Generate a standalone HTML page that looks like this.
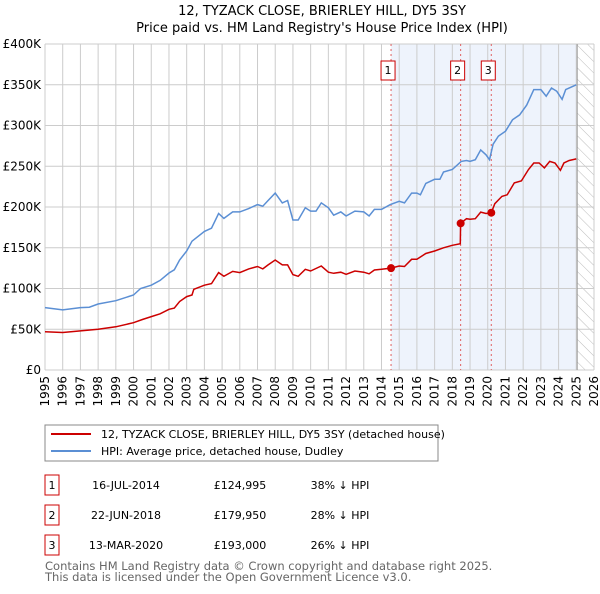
<!DOCTYPE html>
<html><head><meta charset="utf-8"><style>
body{margin:0;background:#fff;font-family:"DejaVu Sans","Liberation Sans",sans-serif;}
svg text{font-family:"DejaVu Sans","Liberation Sans",sans-serif;}
</style></head><body>
<svg id="chart" width="600" height="590" viewBox="0 0 600 590" xmlns="http://www.w3.org/2000/svg">
<defs><pattern id="hatch" width="8" height="8" patternUnits="userSpaceOnUse" patternTransform="rotate(-45)"><line x1="0" y1="0" x2="0" y2="8" stroke="#bbb" stroke-width="1"/></pattern></defs>
<text x="322" y="15" text-anchor="middle" font-size="13">12, TYZACK CLOSE, BRIERLEY HILL, DY5 3SY</text>
<text x="322" y="32" text-anchor="middle" font-size="13">Price paid vs. HM Land Registry's House Price Index (HPI)</text>
<g id="plot"></g>
<g>
<rect x="45" y="425" width="393" height="36" fill="#fff" stroke="#888"/>
<line x1="51" y1="434" x2="91" y2="434" stroke="#cc0000" stroke-width="2"/>
<text x="101" y="438" font-size="11">12, TYZACK CLOSE, BRIERLEY HILL, DY5 3SY (detached house)</text>
<line x1="51" y1="451" x2="91" y2="451" stroke="#5b8fd4" stroke-width="2"/>
<text x="101" y="455" font-size="11">HPI: Average price, detached house, Dudley</text>
</g>
<g id="table" font-size="11"></g>
<text x="45" y="570" font-size="11.5" fill="#666">Contains HM Land Registry data © Crown copyright and database right 2025.</text>
<text x="45" y="581" font-size="11.5" fill="#666">This data is licensed under the Open Government Licence v3.0.</text>
</svg>
<script>
const hpiYears=[1995,1996,1997,1997.5,1998,1999,2000,2000.4,2001,2001.5,2002,2002.3,2002.6,2003,2003.3,2004,2004.4,2004.8,2005.1,2005.6,2006,2006.5,2007,2007.3,2007.6,2008,2008.4,2008.7,2009,2009.3,2009.7,2010,2010.3,2010.6,2011,2011.3,2011.7,2012,2012.5,2013,2013.3,2013.6,2014,2014.5,2015,2015.3,2015.7,2016,2016.2,2016.5,2017,2017.3,2017.5,2018,2018.5,2018.8,2019,2019.3,2019.6,2019.9,2020.1,2020.3,2020.6,2021,2021.4,2021.8,2022.2,2022.6,2023,2023.3,2023.6,2023.9,2024.2,2024.4,2024.7,2025];
const hpiValues=[76.6,73.7,76.6,77,81,85,92,100,104,110,119,123,135,146,158,170,174,192,186,194,194,198,203,201,208,217,205,208,184,184,199,195,195,205,199,190,194,189,195,194,189,197,197,203,207,205,217,217,215,229,234,234,243,246,256,257,256,258,270,264,258,277,287,293,307,313,325,344,344,336,346,342,332,344,347,350];
const redYears=[1995,1996,1997,1998,1999,2000,2000.5,2001,2001.5,2002,2002.3,2002.6,2003,2003.3,2003.4,2004,2004.4,2004.8,2005.1,2005.6,2006,2006.5,2007,2007.3,2007.6,2008,2008.4,2008.7,2009,2009.3,2009.7,2010,2010.6,2011,2011.3,2011.7,2012,2012.5,2013,2013.3,2013.6,2014,2014.54,2015,2015.3,2015.7,2016,2016.5,2017,2017.5,2018,2018.45,2018.47,2018.8,2019,2019.3,2019.6,2019.9,2020.2,2020.4,2020.8,2021.1,2021.5,2021.9,2022.3,2022.6,2022.9,2023.2,2023.5,2023.8,2024.1,2024.3,2024.6,2025];
const redValues=[47,46,48,50,53,58,62,65.5,69,74.5,76,84,90,92,99,104,106,119.5,115,121,119.5,124,127,124,129,135,129,129,117,115,123.5,121.5,127.6,120,118.7,120,117.4,121.5,120,118,122.7,123.5,125,127.6,127,135.8,135.8,143,146,150,153,155,180,185.6,185,185.6,193.7,192,193,204,213,215,229.6,232,246,254,254,248,256,254,245,254,257,259];
const saleYears=[2014.54,2018.47,2020.2];
const saleValues=[124.995,179.95,193];
const saleLabels=["1","2","3"];
const saleDates=["16-JUL-2014","22-JUN-2018","13-MAR-2020"];
const salePrices=["£124,995","£179,950","£193,000"];
const saleDiffs=["38% ↓ HPI","28% ↓ HPI","26% ↓ HPI"];
const yTicks=[0,50,100,150,200,250,300,350,400];
const yTickLabels=["£0","£50K","£100K","£150K","£200K","£250K","£300K","£350K","£400K"];
const xTicks=[1995,1996,1997,1998,1999,2000,2001,2002,2003,2004,2005,2006,2007,2008,2009,2010,2011,2012,2013,2014,2015,2016,2017,2018,2019,2020,2021,2022,2023,2024,2025,2026];

const NS="http://www.w3.org/2000/svg";
const X0=45,X1=594,Y0=370,Y1=44;
const xs=y=>X0+(y-1995)*(X1-X0)/31;
const ys=v=>Y0-v*(Y0-Y1)/400;
const plot=document.getElementById('plot');
function mk(tag,attrs,parent){const e=document.createElementNS(NS,tag);for(const k in attrs)e.setAttribute(k,attrs[k]);(parent||plot).appendChild(e);return e;}
mk('rect',{x:X0,y:Y1,width:X1-X0,height:Y0-Y1,fill:'#fff'});
const shade=mk('rect',{x:xs(saleYears[0]),y:Y1,width:xs(2025)-xs(saleYears[0]),height:Y0-Y1,fill:'#eef3fc'});


const hat=mk('rect',{x:xs(2025.05),y:Y1,width:X1-xs(2025.05),height:Y0-Y1,fill:'url(#hatch)'});


yTicks.forEach((t,i)=>{
  const g=mk('line',{x1:X0,x2:X1,y1:ys(t),y2:ys(t),stroke:'#ccc','stroke-width':1});
  
  
  const l=mk('text',{x:X0-4,y:ys(t)+4,'text-anchor':'end','font-size':12});
  
  
  l.textContent=yTickLabels[i];
});
xTicks.forEach(t=>{
  const g=mk('line',{x1:xs(t),x2:xs(t),y1:Y1,y2:Y0,stroke:'#ccc','stroke-width':1});
  
  
  const l=mk('text',{x:0,y:0,'text-anchor':'end','font-size':12,transform:`translate(${xs(t)+4},${Y0+6}) rotate(-90)`});
  
  
  l.textContent=t;
});
const edge=mk('line',{x1:xs(2025.05),x2:xs(2025.05),y1:Y1,y2:Y0,stroke:'#999','stroke-width':1});


saleYears.forEach((y,i)=>{
  const d=mk('line',{x1:xs(y),x2:xs(y),y1:Y1,y2:Y0,stroke:'#e06060','stroke-width':1,'stroke-dasharray':'2,3'});
  
  
  const b=mk('rect',{x:xs(y)-10,y:61,width:14,height:19,fill:'#fff',stroke:'#cc0000'});
  
  
  const t=mk('text',{x:xs(y)-3,y:74,'text-anchor':'middle','font-size':11});
  
  
  t.textContent=saleLabels[i];
});
const path=(xa,va)=>xa.map((y,i)=>(i?'L':'M')+xs(y).toFixed(1)+','+ys(va[i]).toFixed(1)).join(' ');
const hp=mk('path',{d:path(hpiYears,hpiValues),fill:'none',stroke:'#5b8fd4','stroke-width':1.5});


const rp=mk('path',{d:path(redYears,redValues),fill:'none',stroke:'#cc0000','stroke-width':1.5});


saleYears.forEach((y,i)=>{
  const c=mk('circle',{cx:xs(y),cy:ys(saleValues[i]),r:4,fill:'#cc0000'});
  
  
});
const tbl=document.getElementById('table');
saleLabels.forEach((s,i)=>{
  const yy=475+i*30;
  const b=mk('rect',{x:45,y:yy,width:14,height:20,fill:'#fff',stroke:'#cc0000'},tbl);
  
  
  const vals=[[52,s,'middle'],[126,saleDates[i],'middle'],[240,salePrices[i],'middle'],[340,saleDiffs[i],'middle']];
  vals.forEach(v=>{
    const t=mk('text',{x:v[0],y:yy+14,'text-anchor':v[2],'font-size':11},tbl);
    
    
    t.textContent=v[1];
  });
});
</script>
</body></html>
